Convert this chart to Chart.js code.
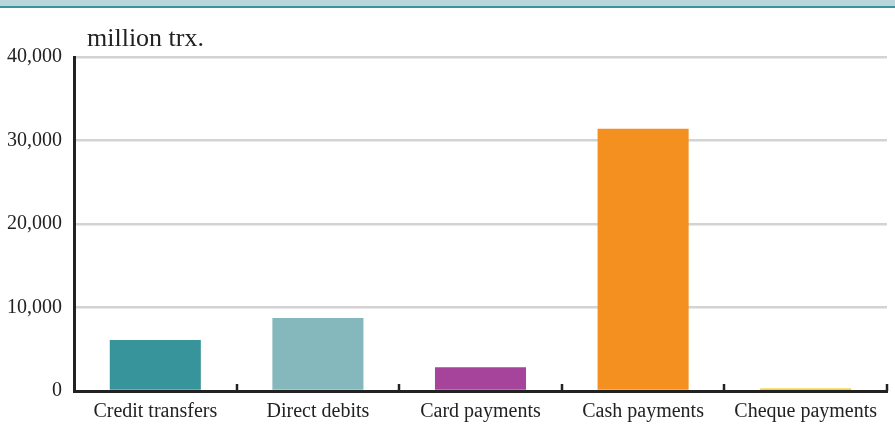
<!DOCTYPE html>
<html>
<head>
<meta charset="utf-8">
<script src="https://cdn.jsdelivr.net/npm/chart.js@4"></script>
<style>
  html, body { margin: 0; padding: 0; background: #fff; }
  #wrap { width: 895px; height: 426px; position: relative; }
</style>
</head>
<body>
<div id="wrap"><canvas id="paymentsChart" width="895" height="426"></canvas></div>
<script>
const categories = ['Credit transfers', 'Direct debits', 'Card payments', 'Cash payments', 'Cheque payments'];
const transactions = [6100, 8750, 2850, 31400, 300];
const barColors = ['#37949a', '#84b8bd', '#a5449a', '#f39020', '#f2c500'];
const yTicks = [0, 10000, 20000, 30000, 40000];
const unitLabel = 'million trx.';

const serif = '"Liberation Serif", "DejaVu Serif", serif';

// top band + unit label + category tick marks
const decor = {
    id: 'decor',
    beforeDraw(chart) {
        const c = chart.ctx;
        c.save();
        c.fillStyle = '#b9d6dc';
        c.fillRect(0, 0, chart.width, 6);
        c.fillStyle = '#3a9499';
        c.fillRect(0, 6, chart.width, 2);
        c.restore();
    },
    afterDraw(chart) {
        const c = chart.ctx;
        const x = chart.scales.x;
        const area = chart.chartArea;
        c.save();
        c.fillStyle = '#222';
        c.font = '26px ' + serif;
        c.textBaseline = 'alphabetic';
        c.fillText(unitLabel, 87, 46);
        c.strokeStyle = '#222';
        c.lineWidth = 2.5;
        const n = categories.length;
        for (let i = 1; i <= n; i++) {
            const px = Math.round(x.left + i * (x.width / n));
            c.beginPath();
            c.moveTo(px, area.bottom - 7);
            c.lineTo(px, area.bottom);
            c.stroke();
        }
        c.restore();
    }
};

new Chart(document.getElementById('paymentsChart'), {
    type: 'bar',
    data: {
        labels: categories,
        datasets: [{
            data: transactions,
            backgroundColor: barColors,
            borderWidth: 0,
            barPercentage: 0.56,
            categoryPercentage: 1
        }]
    },
    options: {
        responsive: false,
        animation: false,
        layout: { padding: { top: 57, right: 8, left: 0, bottom: 0 } },
        plugins: { legend: { display: false }, tooltip: { enabled: false } },
        scales: {
            x: {
                grid: { display: false, drawTicks: false },
                border: { display: true, color: '#222', width: 3 },
                ticks: {
                    color: '#222',
                    font: { family: serif, size: 20 },
                    padding: 9,
                    maxRotation: 0,
                    autoSkip: false
                },
                afterFit(scale) { scale.height = 35; }
            },
            y: {
                min: 0,
                max: 40000,
                afterBuildTicks(scale) { scale.ticks = yTicks.map(v => ({ value: v })); },
                grid: { color: '#d3d3d3', lineWidth: 2.5, drawTicks: false },
                border: { display: true, color: '#222', width: 3 },
                ticks: {
                    color: '#222',
                    font: { family: serif, size: 20 },
                    padding: 12,
                    callback: v => v.toLocaleString('en-US')
                },
                afterFit(scale) { scale.width = 74; }
            }
        }
    },
    plugins: [decor]
});
</script>
</body>
</html>
